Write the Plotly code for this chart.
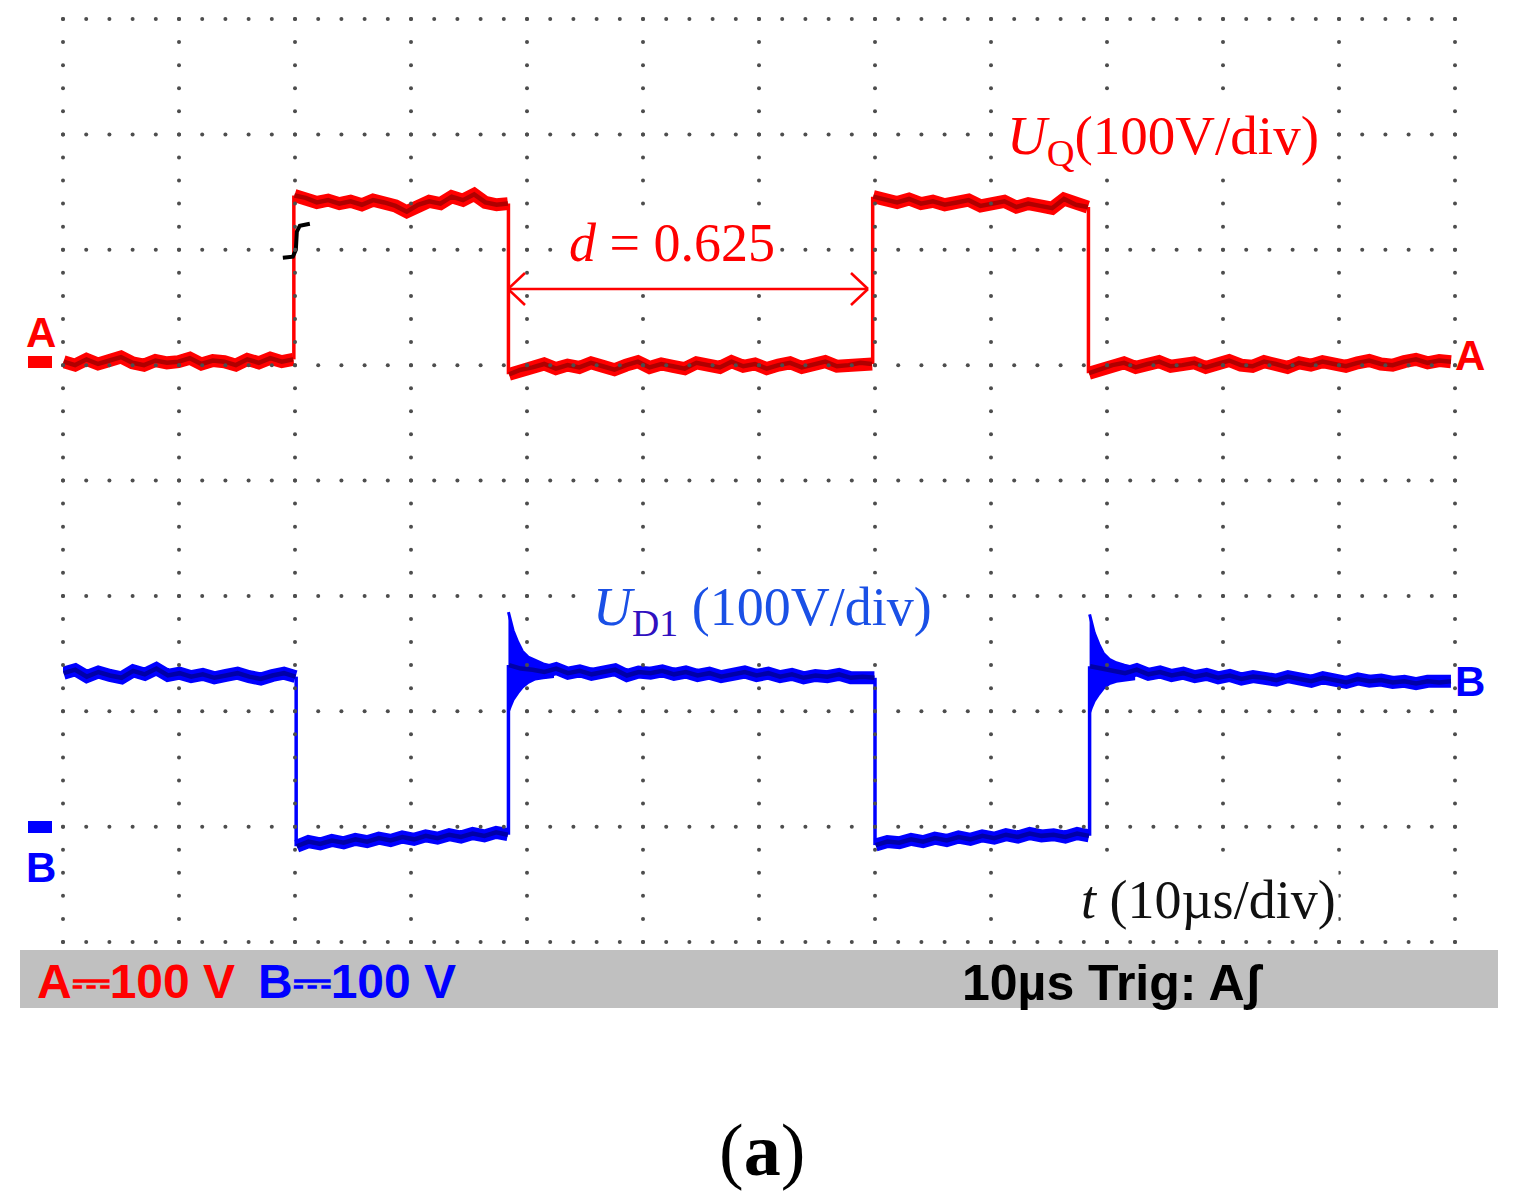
import numpy as np
import plotly.graph_objects as go

# ---------------- data ----------------
# time base 10 us/div (12 div), vertical 100 V/div (8 div)
T_RANGE = [0, 120]
DIV_RANGE = [0, 8]
V_PER_DIV = 100.0
A_OFFSET_DIV = 5      # channel A ground marker (division from bottom)
B_OFFSET_DIV = 1      # channel B ground marker

# Channel A : U_Q  (switching edges, us)
a_edges = [19.9, 38.4, 69.8, 88.4]
a_end = 119.7
a_seg1 = [3, 0, 5, 1, 4, 7, 2, 0, 4, 2, 3, 6, 1, 4, 3, 0, 5, 2, 6, 3, 5]
a_seg2 = [147, 145, 141, 143, 140, 142, 139, 143, 141, 138, 133, 139, 142, 140, 146, 143, 148, 141, 139, 140]
a_seg3 = [-8, -4, -2, 1, -3, 0, -2, 2, -1, -4, 0, 3, -2, 1, -1, -3, 2, 0, -2, 3, -1, 1, -3, 0, 2, -2, 1, 3, -1, 0, 2, 1]
a_seg4 = [146, 143, 141, 144, 140, 142, 139, 141, 143, 138, 140, 142, 137, 140, 138, 136, 144, 139, 137]
a_seg5 = [-7, -3, 0, 2, -2, 1, 3, -1, 0, 2, -2, 1, 4, 0, -1, 3, 1, -2, 2, 0, 3, 1, -1, 2, 4, 1, 0, 3, 5, 2, 4, 3]

# Channel B : U_D1
b_edges = [20.1, 38.4, 70.0, 88.5]
b_end = 119.7
b_seg1 = [133, 136, 130, 134, 131, 129, 135, 132, 137, 131, 133, 130, 132, 129, 131, 133, 130, 128, 131, 133, 130]
b_seg2 = [-17, -13, -15, -12, -14, -11, -13, -10, -12, -9, -11, -8, -10, -7, -9, -6, -8, -5, -7]
b_seg3 = [140, 137, 136, 134, 137, 133, 135, 132, 134, 136, 131, 134, 133, 135, 132, 134, 131, 133, 130, 132, 134, 131, 133, 130, 132, 129, 131, 130, 132, 129, 130, 129]
b_seg4 = [-16, -13, -14, -11, -13, -10, -12, -9, -11, -8, -10, -7, -9, -6, -8, -7, -9, -6, -8]
b_seg5 = [139, 137, 135, 133, 136, 132, 134, 131, 133, 130, 132, 129, 131, 128, 130, 129, 127, 130, 128, 126, 129, 127, 125, 128, 126, 127, 125, 126, 124, 126, 125, 126]

# ringing envelope after the B rising edges (time after edge in us, volts)
ring_dt = [0.0, 0.15, 0.4, 0.8, 1.2, 1.7, 2.3, 3.0, 3.8]
ring1_upper = [186, 180, 170, 160, 152, 147, 144, 141, 139]
ring1_lower = [100, 104, 110, 116, 121, 125, 128, 129, 130]
ring2_upper = [184, 178, 168, 158, 150, 145, 142, 140, 138]
ring2_lower = [99, 103, 109, 115, 120, 124, 126, 127, 128]

# trigger marker (channel A rising edge)
trig_t = 19.9
trig_level_V = 107

d_value = "0.625"

# ---------------- geometry / helpers ----------------
W, H = 1513, 1204
PX_L, PX_R, PX_T, PX_B = 63, 1455, 19, 942


def px(x):
    return (x - PX_L) / (PX_R - PX_L)


def py(y):
    return (PX_B - y) / (PX_B - PX_T)


def a_div(v):
    return [A_OFFSET_DIV + vv / V_PER_DIV for vv in v]


def b_div(v):
    return [B_OFFSET_DIV + vv / V_PER_DIV for vv in v]


def segments(edges, end, segs, conv):
    bounds = [0.0] + list(edges) + [end]
    xs, ys = [], []
    ex, ey = [], []
    for i, s in enumerate(segs):
        t = np.linspace(bounds[i] + 0.05, bounds[i + 1] - 0.05, len(s))
        xs += list(t) + [None]
        ys += conv(s) + [None]
    for i, e in enumerate(edges):
        ex += [e, e, None]
        ey += [conv([segs[i][-1]])[0], conv([segs[i + 1][0]])[0], None]
    return xs, ys, ex, ey


fig = go.Figure()

RED, RED_CORE = "#ff0000", "#b00000"
BLUE, BLUE_CORE = "#0000ff", "#0000a8"

# channel A
ax_, ay_, aex, aey = segments(a_edges, a_end, [a_seg1, a_seg2, a_seg3, a_seg4, a_seg5], a_div)
fig.add_trace(go.Scatter(x=aex, y=aey, mode="lines", line=dict(color=RED, width=3.5),
                         hoverinfo="skip", showlegend=False))
fig.add_trace(go.Scatter(x=ax_, y=ay_, mode="lines", line=dict(color=RED, width=13),
                         hoverinfo="skip", showlegend=False))
fig.add_trace(go.Scatter(x=ax_, y=ay_, mode="lines", line=dict(color=RED_CORE, width=4.5),
                         hoverinfo="skip", showlegend=False))

# channel B
bx_, by_, bex, bey = segments(b_edges, b_end, [b_seg1, b_seg2, b_seg3, b_seg4, b_seg5], b_div)
fig.add_trace(go.Scatter(x=bex, y=bey, mode="lines", line=dict(color=BLUE, width=3.5),
                         hoverinfo="skip", showlegend=False))
for edge, up, lo in [(b_edges[1], ring1_upper, ring1_lower), (b_edges[3], ring2_upper, ring2_lower)]:
    rx = [edge + d for d in ring_dt] + [edge + d for d in ring_dt[::-1]]
    ry = b_div(up) + b_div(lo[::-1])
    fig.add_trace(go.Scatter(x=rx, y=ry, mode="lines", fill="toself", fillcolor=BLUE,
                             line=dict(color=BLUE, width=3), hoverinfo="skip", showlegend=False))
fig.add_trace(go.Scatter(x=bx_, y=by_, mode="lines", line=dict(color=BLUE, width=13),
                         hoverinfo="skip", showlegend=False))
fig.add_trace(go.Scatter(x=bx_, y=by_, mode="lines", line=dict(color=BLUE_CORE, width=4.5),
                         hoverinfo="skip", showlegend=False))

# trigger marker symbol (pixel offsets -> data)
sym = [(-11, 16), (-1, 15), (2, 8), (3, -10), (6, -16), (16, -18)]
us_per_px = (T_RANGE[1] - T_RANGE[0]) / (PX_R - PX_L)
div_per_px = (DIV_RANGE[1] - DIV_RANGE[0]) / (PX_B - PX_T)
ty0 = a_div([trig_level_V])[0]
fig.add_trace(go.Scatter(x=[trig_t + dx * us_per_px for dx, dy in sym],
                         y=[ty0 - dy * div_per_px for dx, dy in sym],
                         mode="lines", line=dict(color="black", width=4),
                         hoverinfo="skip", showlegend=False))

# dotted graticule
gx, gy = [], []
for i in range(13):
    for j in range(41):
        gx.append(i * 10)
        gy.append(j * 0.2)
for j in range(9):
    for i in range(61):
        gx.append(i * 2)
        gy.append(j)
fig.add_trace(go.Scatter(x=gx, y=gy, mode="markers",
                         marker=dict(size=4, color="#4d4d4d", symbol="circle", line=dict(width=0)),
                         cliponaxis=False, hoverinfo="skip", showlegend=False))

# ---------------- shapes ----------------
shapes = []
# status bar
shapes.append(dict(type="rect", xref="paper", yref="paper", x0=px(20), x1=px(1498), y0=py(1008), y1=py(950),
                   fillcolor="#c0c0c0", line=dict(width=0), layer="below"))
# ground bars for A and B markers
shapes.append(dict(type="rect", xref="paper", yref="paper", x0=px(28), x1=px(52), y0=py(368), y1=py(356),
                   fillcolor=RED, line=dict(width=0)))
shapes.append(dict(type="rect", xref="paper", yref="paper", x0=px(28), x1=px(52), y0=py(833), y1=py(821),
                   fillcolor=BLUE, line=dict(width=0)))
# d arrow
ARW = dict(color=RED, width=2.5)
for (x0, y0, x1, y1) in [(508, 289, 868, 289),
                         (508, 289, 525, 273), (508, 289, 525, 305),
                         (868, 289, 851, 273), (868, 289, 851, 305)]:
    shapes.append(dict(type="line", xref="paper", yref="paper", x0=px(x0), y0=py(y0), x1=px(x1), y1=py(y1),
                       line=ARW))

# ---------------- annotations ----------------
SERIF = "Liberation Serif, Times New Roman, serif"
MONO = "Liberation Sans, Arial, sans-serif"
anns = []


def ann(x, y, text, size, color, family, xanchor="left", bg=None):
    d = dict(x=px(x), y=py(y), xref="paper", yref="paper", text=text, showarrow=False,
             xanchor=xanchor, yanchor="middle", font=dict(size=size, color=color, family=family))
    if bg:
        d["bgcolor"] = bg
        d["borderpad"] = 2
    anns.append(d)


ann(1004, 140, "<i>U</i><sub>Q</sub>(100V/div)", 55, RED, SERIF, bg="white")
ann(566, 243, "<i>d</i> = " + d_value, 54, RED, SERIF, bg="white")
ann(590, 610, "<i>U</i><sub><span style='color:#3010c0'>D1</span></sub> (100V/div)", 54, "#1a50e6", SERIF,
    bg="white")
ann(1078, 900, "<i>t</i> (10µs/div)", 54, "#111111", SERIF, bg="white")

# channel markers
ann(41, 332, "<b>A</b>", 42, RED, MONO, "center")
ann(1470, 355, "<b>A</b>", 42, RED, MONO, "center")
ann(41, 867, "<b>B</b>", 42, BLUE, MONO, "center")
ann(1470, 682, "<b>B</b>", 42, BLUE, MONO, "center")

# status bar text
ann(35, 981, "<b>A⎓100 V</b>", 48, RED, MONO)
ann(256, 981, "<b>B⎓100 V</b>", 48, BLUE, MONO)
ann(960, 983, "<b>10µs Trig: Aʃ</b>", 50, "black", MONO)

# caption
ann(762, 1150, "(<b>a</b>)", 74, "black", SERIF, "center")

fig.update_layout(
    width=W, height=H,
    margin=dict(l=PX_L, r=W - PX_R, t=PX_T, b=H - PX_B, pad=0),
    paper_bgcolor="white", plot_bgcolor="white",
    xaxis=dict(range=T_RANGE, visible=False, showgrid=False, zeroline=False, fixedrange=True),
    yaxis=dict(range=DIV_RANGE, visible=False, showgrid=False, zeroline=False, fixedrange=True),
    shapes=shapes, annotations=anns, showlegend=False,
)

fig.write_html("out.html", config={"displayModeBar": False},
               post_script="document.body.style.margin='0';document.body.style.overflow='hidden';")
